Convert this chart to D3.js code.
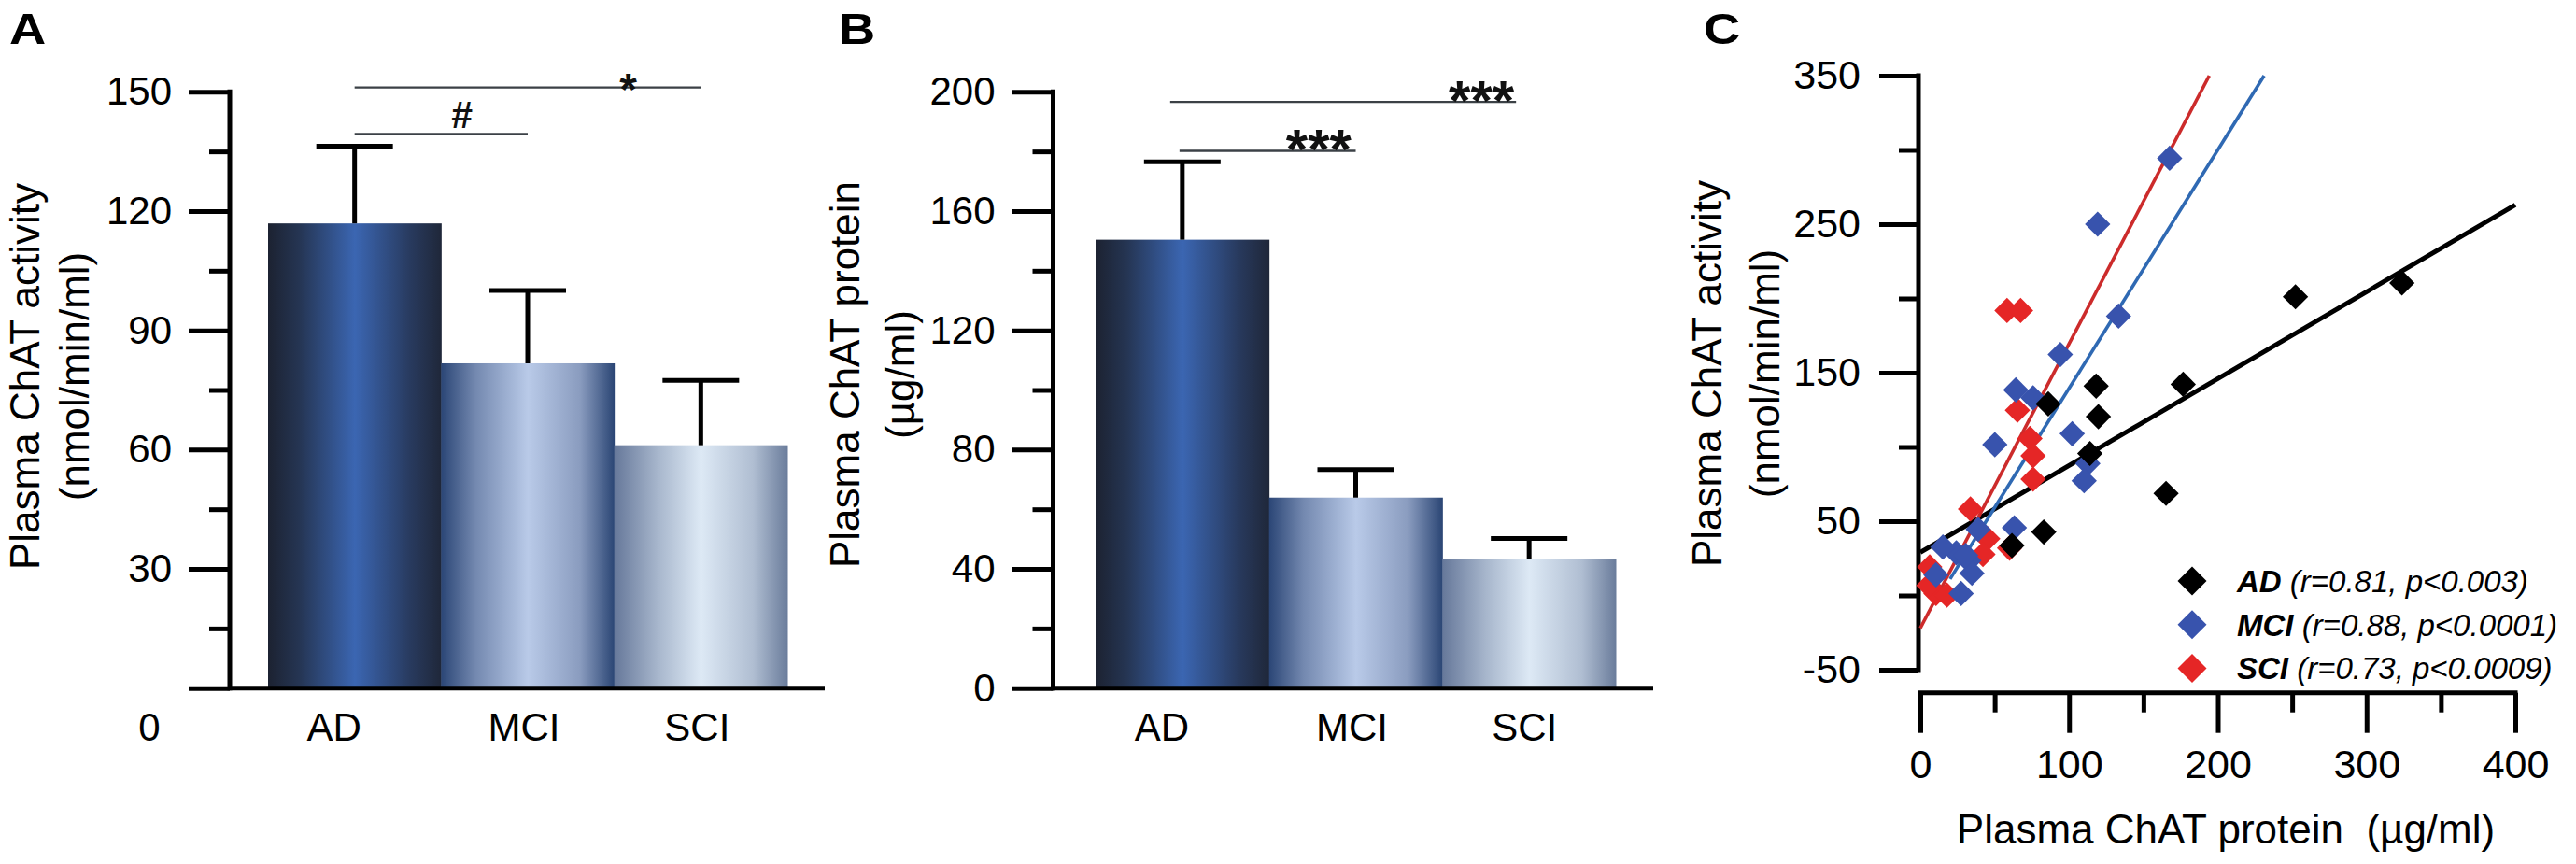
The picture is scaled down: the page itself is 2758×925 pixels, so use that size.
<!DOCTYPE html>
<html>
<head>
<meta charset="utf-8">
<script src="https://cdn.jsdelivr.net/npm/d3@7"></script>
<style>
  body { margin: 0; background: #fff; }
  svg { display: block; font-family: "Liberation Sans", Arial, Helvetica, sans-serif; }
</style>
</head>
<body>
<div id="chart"></div>
<script>
// groups shared by all panels
var groups = ["AD", "MCI", "SCI"];

// panel A: plasma ChAT activity (nmol/min/ml), mean and SEM
var activityMean = [116.9, 81.7, 61.1];
var activitySem = [19.4, 18.3, 16.3];
var activityTicks = [0, 30, 60, 90, 120, 150];

// panel B: plasma ChAT protein (µg/ml), mean and SEM
var proteinMean = [150.4, 63.9, 43.2];
var proteinSem = [26.1, 9.4, 7.0];
var proteinTicks = [0, 40, 80, 120, 160, 200];

// significance bars: [from, to, height (data units), mark]
var sigA = [["AD", "SCI", 151.1, "*"], ["AD", "MCI", 139.4, "#"]];
var sigB = [["AD", "SCI", 196.6, "***"], ["AD", "MCI", 180.2, "***"]];

// panel C: [protein, activity] per subject
var adPoints = [[323.8, 210.4], [252.2, 201.1], [176.7, 142.2], [118.2, 141], [119.7, 120.4],
  [86, 129], [114, 95.6], [165.2, 68.7], [83, 42.7], [61.6, 33.6]];
var mciPoints = [[167.6, 294.4], [119.2, 250], [133.3, 188.1], [94.1, 162.2], [64.2, 138.4],
  [75.8, 133.1], [102.1, 108.9], [50.1, 101.5], [112.6, 88.8], [110.1, 77.2], [63.2, 45.6],
  [38.9, 44.5], [24.2, 28.7], [32.6, 23.4], [10.5, 13.9], [34.7, 15], [27.4, 1.3],
  [15.2, 32.6], [30.5, 27]];
var sciPoints = [[58.3, 191.9], [67.4, 191.9], [65.3, 124.7], [73.7, 105.7], [75.8, 94.1],
  [75.8, 78.3], [33.7, 58.2], [45.3, 38.2], [42.1, 27.6], [60, 31.9], [6.3, 19.2],
  [10.5, 1.3], [17.9, 0.2], [5.7, 6.7]];

// regression lines: [intercept, slope, first x]
var adFit = [29, 0.585, 0];
var mciFit = [-21, 1.605, 20];
var sciFit = [-22, 1.915, 0];

var legendStats = ["(r=0.81, p<0.003)", "(r=0.88, p<0.0001)", "(r=0.73, p<0.0009)"];
var scatterXTicks = [0, 100, 200, 300, 400];
var scatterXMinor = [50, 150, 250, 350];
var scatterYTicks = [-50, 50, 150, 250, 350];
var scatterYMinor = [0, 100, 200, 300];

// colours
var barStops = {
  AD: [[0, "#1c2231"], [0.18, "#253553"], [0.5, "#3b66b2"], [0.82, "#283a5e"], [1, "#1f2739"]],
  MCI: [[0, "#2b4676"], [0.2, "#7489b0"], [0.5, "#b9cae8"], [0.8, "#8a9cbf"], [1, "#2a4574"]],
  SCI: [[0, "#66789a"], [0.25, "#a7b6cc"], [0.5, "#dde9f5"], [0.8, "#b0bed2"], [1, "#6a7c9b"]]
};
var pointColor = { AD: "#000000", MCI: "#3853ad", SCI: "#e52626" };
var lineColor = { AD: "#000000", MCI: "#2f69b3", SCI: "#cc2b2b" };

var svg = d3.select("#chart").append("svg")
  .attr("width", 2758)
  .attr("height", 925)
  .style("background", "#fff");

var defs = svg.append("defs");
groups.forEach(function(k) {
  var lg = defs.append("linearGradient")
    .attr("id", "grad-" + k)
    .attr("x1", "0%").attr("x2", "100%").attr("y1", "0%").attr("y2", "0%");
  barStops[k].forEach(function(s) {
    lg.append("stop").attr("offset", (s[0] * 100) + "%").attr("stop-color", s[1]);
  });
});

function panelLetter(txt, x) {
  svg.append("text")
    .attr("transform", "translate(" + x + ",47) scale(1.18,1)")
    .attr("font-size", 46)
    .attr("font-weight", "bold")
    .text(txt);
}

function yTitle(lines, xs, yc) {
  lines.forEach(function(t, i) {
    svg.append("text")
      .attr("transform", "translate(" + xs[i] + "," + yc + ") rotate(-90)")
      .attr("text-anchor", "middle")
      .attr("font-size", 44)
      .text(t);
  });
}

function styleAxis(ax, fontSize) {
  ax.select(".domain").remove();
  ax.selectAll(".tick line").attr("stroke", "#000").attr("stroke-width", 5);
  ax.selectAll(".tick text")
    .attr("fill", "#000")
    .attr("font-size", fontSize)
    .attr("font-family", '"Liberation Sans", Arial, sans-serif');
}

//bar chart panel (A and B)
function barPanel(p) {
  var g = svg.append("g");
  var y = d3.scaleLinear().domain([0, p.max]).range([736.7, 98.3]);
  var x = d3.scaleBand().domain(groups).range(p.bars).padding(0);
  var cx = function(k) { return x(k) + x.bandwidth() / 2; };

  g.selectAll("rect.bar")
    .data(groups)
    .enter().append("rect")
    .attr("x", function(d) { return x(d); })
    .attr("y", function(d, i) { return y(p.mean[i]); })
    .attr("width", x.bandwidth() + 0.5)
    .attr("height", function(d, i) { return y(0) - y(p.mean[i]); })
    .attr("fill", function(d) { return "url(#grad-" + d + ")"; });

  // error bars (upper half only)
  var eb = g.selectAll("g.err").data(groups).enter().append("g")
    .attr("stroke", "#000").attr("stroke-width", 5);
  eb.append("line")
    .attr("x1", cx).attr("x2", cx)
    .attr("y1", function(d, i) { return y(p.mean[i]); })
    .attr("y2", function(d, i) { return y(p.mean[i] + p.sem[i]); });
  eb.append("line")
    .attr("x1", function(d) { return cx(d) - 41; })
    .attr("x2", function(d) { return cx(d) + 41; })
    .attr("y1", function(d, i) { return y(p.mean[i] + p.sem[i]); })
    .attr("y2", function(d, i) { return y(p.mean[i] + p.sem[i]); });

  // y axis: minor then major ticks
  var minor = d3.range(0, p.max + 1, p.minorStep).filter(function(v) { return p.ticks.indexOf(v) < 0; });
  var ax1 = g.append("g").attr("transform", "translate(" + p.axisX + ",0)")
    .call(d3.axisLeft(y).tickValues(minor).tickSize(22).tickFormat(""));
  styleAxis(ax1, 42);
  var ax2 = g.append("g").attr("transform", "translate(" + p.axisX + ",0)")
    .call(d3.axisLeft(y).tickValues(p.ticks).tickSize(44).tickPadding(18)
      .tickFormat(function(d) { return (p.zeroBelow && d === 0) ? "" : String(d); }));
  styleAxis(ax2, 42);

  g.append("line")
    .attr("x1", p.axisX).attr("x2", p.axisX)
    .attr("y1", y(p.max) - 2.5).attr("y2", y(0) + 2.5)
    .attr("stroke", "#000").attr("stroke-width", 5);
  g.append("line")
    .attr("x1", p.axisX).attr("x2", p.axisEnd)
    .attr("y1", y(0)).attr("y2", y(0))
    .attr("stroke", "#000").attr("stroke-width", 5);

  if (p.zeroBelow) {
    g.append("text")
      .attr("x", p.axisX - 86).attr("y", y(0) + 56)
      .attr("text-anchor", "middle").attr("font-size", 42)
      .text("0");
  }

  g.selectAll("text.cat")
    .data(groups)
    .enter().append("text")
    .attr("x", function(d, i) { return cx(d) + p.labelNudge[i]; })
    .attr("y", y(0) + 56)
    .attr("text-anchor", "middle")
    .attr("font-size", 42)
    .text(function(d) { return d; });

  // significance lines
  p.sig.forEach(function(s, i) {
    var lay = p.sigLayout[i];
    var x1 = cx(s[0]) + lay.nudge[0], x2 = cx(s[1]) + lay.nudge[1];
    g.append("line")
      .attr("x1", x1).attr("x2", x2)
      .attr("y1", y(s[2])).attr("y2", y(s[2]))
      .attr("stroke", "#3b4146").attr("stroke-width", 2.4);
    g.append("text")
      .attr("x", x1 + (x2 - x1) * lay.at)
      .attr("y", y(s[2]) + (s[3] === "#" ? -6 : lay.drop))
      .attr("text-anchor", "middle")
      .attr("font-weight", "bold")
      .attr("font-size", lay.size)
      .attr("fill", "#111")
      .text(s[3]);
  });

  yTitle(p.title, p.titleX, p.titleY);
}

panelLetter("A", 10);
barPanel({
  max: 150, ticks: activityTicks, minorStep: 15,
  mean: activityMean, sem: activitySem,
  axisX: 246, axisEnd: 883, bars: [287, 843],
  zeroBelow: true, labelNudge: [-22, -4, -4],
  sig: sigA,
  sigLayout: [{ at: 0.79, size: 48, drop: 18, nudge: [0, 0] },
              { at: 0.62, size: 41, drop: -6, nudge: [0, 0] }],
  title: ["Plasma ChAT activity", "(nmol/min/ml)"], titleX: [41.5, 94.5], titleY: 403
});

panelLetter("B", 898);
barPanel({
  max: 200, ticks: proteinTicks, minorStep: 20,
  mean: proteinMean, sem: proteinSem,
  axisX: 1127.5, axisEnd: 1770, bars: [1173, 1730],
  zeroBelow: false, labelNudge: [-22, -4, -5],
  sig: sigB,
  sigLayout: [{ at: 0.9, size: 60, drop: 19, nudge: [-13, -14] },
              { at: 0.79, size: 60, drop: 18, nudge: [-3, 0] }],
  title: ["Plasma ChAT protein", "(µg/ml)"], titleX: [920, 979], titleY: 401
});

// panel C: scatter
panelLetter("C", 1824);
var gc = svg.append("g");
var xC = d3.scaleLinear().domain([0, 400]).range([2056, 2693]);
var yC = d3.scaleLinear().domain([-50, 350]).range([717, 81]);
var yAxisX = 2054, xAxisY = 741.7;

var cy1 = gc.append("g").attr("transform", "translate(" + yAxisX + ",0)")
  .call(d3.axisLeft(yC).tickValues(scatterYMinor).tickSize(21).tickFormat(""));
styleAxis(cy1, 43);
var cy2 = gc.append("g").attr("transform", "translate(" + yAxisX + ",0)")
  .call(d3.axisLeft(yC).tickValues(scatterYTicks).tickSize(42).tickPadding(20)
    .tickFormat(function(d) { return String(d); }));
styleAxis(cy2, 43);
gc.append("line")
  .attr("x1", yAxisX).attr("x2", yAxisX)
  .attr("y1", yC(350) - 2.5).attr("y2", yC(-50) + 2.5)
  .attr("stroke", "#000").attr("stroke-width", 5);

var cx1 = gc.append("g").attr("transform", "translate(0," + xAxisY + ")")
  .call(d3.axisBottom(xC).tickValues(scatterXMinor).tickSize(21).tickFormat(""));
styleAxis(cx1, 43);
var cx2 = gc.append("g").attr("transform", "translate(0," + xAxisY + ")")
  .call(d3.axisBottom(xC).tickValues(scatterXTicks).tickSize(43).tickPadding(18));
styleAxis(cx2, 43);
gc.append("line")
  .attr("x1", xC(0) - 2.5).attr("x2", xC(400) + 2.5)
  .attr("y1", xAxisY).attr("y2", xAxisY)
  .attr("stroke", "#000").attr("stroke-width", 5);

// regression lines, stopped at the top of the y axis
var fits = [["AD", adFit, 5], ["MCI", mciFit, 3.6], ["SCI", sciFit, 3.6]];
var line = d3.line().x(function(d) { return xC(d[0]); }).y(function(d) { return yC(d[1]); });
fits.forEach(function(f) {
  var b = f[1][0], m = f[1][1], x0 = f[1][2];
  var x1 = Math.min(400, (350 - b) / m);
  gc.append("path")
    .attr("d", line([[x0, b + m * x0], [x1, b + m * x1]]))
    .attr("fill", "none")
    .attr("stroke", lineColor[f[0]])
    .attr("stroke-width", f[2]);
});

var diamond = d3.symbol().type(d3.symbolSquare).size(370);
var series = [["SCI", sciPoints], ["MCI", mciPoints], ["AD", adPoints]];
series.forEach(function(s) {
  gc.append("g").selectAll("path")
    .data(s[1])
    .enter().append("path")
    .attr("d", diamond)
    .attr("transform", function(d) { return "translate(" + xC(d[0]) + "," + yC(d[1]) + ") rotate(45)"; })
    .attr("fill", pointColor[s[0]]);
});

// legend
var legend = gc.append("g").attr("transform", "translate(2347,622)");
var legendDiamond = d3.symbol().type(d3.symbolSquare).size(480);
groups.forEach(function(k, i) {
  var row = legend.append("g").attr("transform", "translate(0," + (i * 46.7) + ")");
  row.append("path")
    .attr("d", legendDiamond)
    .attr("transform", "rotate(45)")
    .attr("fill", pointColor[k]);
  var t = row.append("text")
    .attr("x", 48).attr("y", 12)
    .attr("font-size", 33)
    .attr("font-style", "italic")
    .style("white-space", "pre");
  t.append("tspan").attr("font-weight", "bold").text(k);
  t.append("tspan").text(" " + legendStats[i]);
});

yTitle(["Plasma ChAT activity", "(nmol/min/ml)"], [1843, 1905], 400);
gc.append("text")
  .attr("x", 2383).attr("y", 903)
  .attr("text-anchor", "middle")
  .attr("font-size", 44)
  .style("white-space", "pre")
  .text("Plasma ChAT protein  (µg/ml)");
</script>
</body>
</html>
